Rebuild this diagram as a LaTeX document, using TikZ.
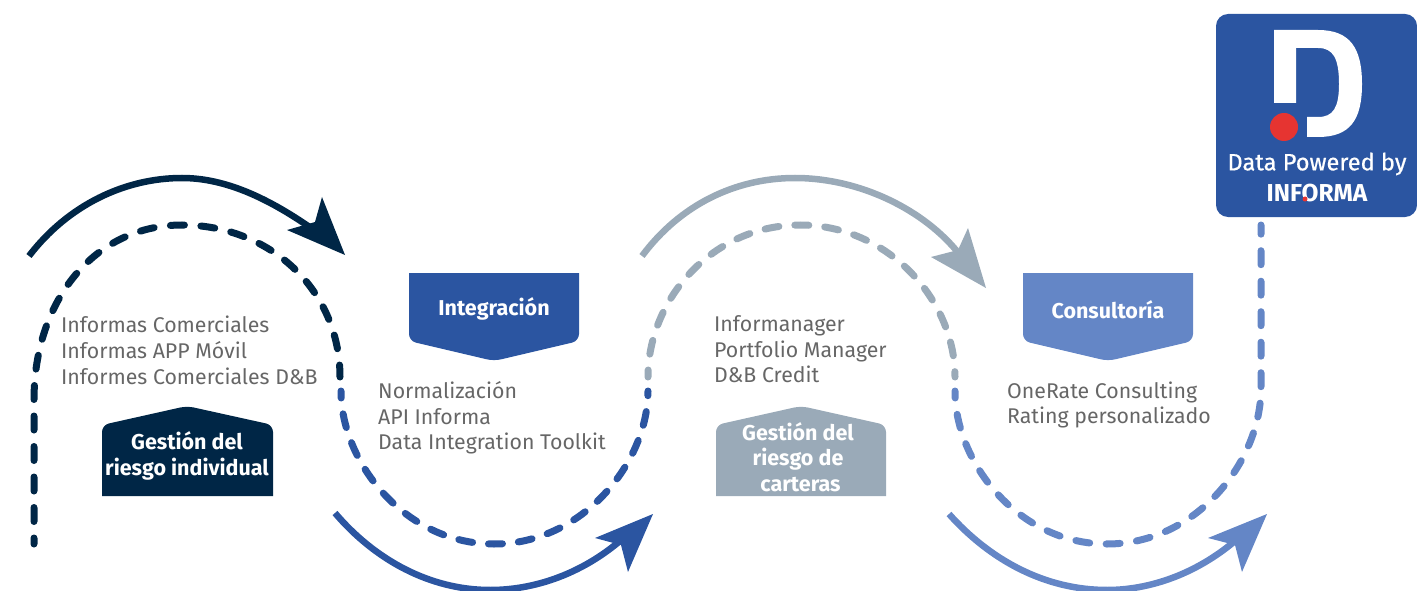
\documentclass[tikz,border=0pt]{standalone}
\usepackage{fontspec}
\setmainfont{Fira Sans}
\definecolor{navy}{HTML}{002646}
\definecolor{blueA}{HTML}{2B55A1}
\definecolor{greyB}{HTML}{9AAAB8}
\definecolor{blueC}{HTML}{6486C6}
\definecolor{txt}{HTML}{666666}
\definecolor{redD}{HTML}{E63431}
\tikzset{
  px/.style={x=1pt,y=-1pt},
  dashline/.style={line width=7pt,line cap=round},
  arcline/.style={line width=6.5pt},
  list/.style={font=\fontsize{21.3}{25.6}\selectfont,text=txt,align=left,anchor=north west,inner sep=0pt},
  head/.style={font=\fontsize{21.5}{25.6}\selectfont\bfseries,text=white,align=center,inner sep=0pt},
  tag/.style={rounded corners=7pt},
}
\begin{document}
\begin{tikzpicture}[px]
\useasboundingbox (0,0) rectangle (1417,591);
% dashed wave
\coordinate (w0) at (34,544);
\coordinate (w1e) at (340,377);
\coordinate (w1s) at (341,391);
\coordinate (w2e) at (648,391);
\coordinate (w2s) at (648,377);
\coordinate (w3e) at (955,377);
\coordinate (w3s) at (955,391);
\coordinate (w4) at (1261,225);
\draw[dashline,navy,dash pattern=on 14pt off 16.5pt,dash phase=8pt] (w0) -- (34,400) .. controls (34,300) and (95,225) .. (182,225) .. controls (270,225) and (340,290) .. (w1e);
\draw[dashline,blueA,dash pattern=on 14pt off 16pt,dash phase=7pt] (w1s) .. controls (341,462) and (405,544) .. (494,544) .. controls (583,544) and (648,462) .. (w2e);
\draw[dashline,greyB,dash pattern=on 14pt off 16pt,dash phase=7pt] (w2s) .. controls (648,300) and (712,225) .. (800,225) .. controls (888,225) and (955,300) .. (w3e);
\draw[dashline,blueC,dash pattern=on 14pt off 16.5pt,dash phase=7pt] (w3s) .. controls (955,462) and (1018,544) .. (1107,544) .. controls (1196,544) and (1261,462) .. (1261,388) -- (w4);
% solid arcs
\coordinate (a1s) at (29,256); \coordinate (a1e) at (325,238);
\draw[arcline,navy] (a1s) .. controls (68,205) and (125,178) .. (182,178) .. controls (232,178) and (280,205) .. (a1e);
\fill[navy] (345,255) -- (322,197) -- (315,222) -- (287,230) -- cycle;
\coordinate (a2s) at (335,513); \coordinate (a2e) at (630,532);
\draw[arcline,blueA] (a2s) .. controls (375,560) and (430,590) .. (490,590) .. controls (540,590) and (590,570) .. (a2e);
\fill[blueA] (653,514) -- (628,572) -- (621,545) -- (595,538) -- cycle;
\coordinate (a3s) at (642,256); \coordinate (a3e) at (960,255);
\draw[arcline,greyB] (a3s) .. controls (680,205) and (735,178) .. (795,178) .. controls (860,178) and (925,210) .. (a3e);
\fill[greyB] (986,288) -- (968,228) -- (958,250) -- (931,257) -- cycle;
\coordinate (a4s) at (949,514); \coordinate (a4e) at (1245,532);
\draw[arcline,blueC] (a4s) .. controls (990,560) and (1045,590) .. (1107,590) .. controls (1155,590) and (1205,570) .. (a4e);
\fill[blueC] (1267,514) -- (1242,572) -- (1235,545) -- (1208,538) -- cycle;
% tags
\fill[blueA,tag] (409,273) [sharp corners] -- (409,273) [tag] -- (409,341) -- (494,361) -- (579,341) [sharp corners] -- (579,273) -- cycle;
\node[head] (integ) at (494,309) {Integración};
\fill[blueC,tag] (1023,273) [sharp corners] -- (1023,273) [tag] -- (1023,341) -- (1108,361) -- (1193,341) [sharp corners] -- (1193,273) -- cycle;
\node[head] (cons) at (1108,310) {Consultoría};
\fill[navy,tag] (102,496) [tag] -- (102,425) -- (187,406) -- (273,425) [sharp corners] -- (273,496) -- cycle;
\node[head] (indiv) at (187,456) {Gestión del\\riesgo individual};
\fill[greyB,tag] (716,496) [tag] -- (716,425) -- (801,406) -- (886,425) [sharp corners] -- (886,496) -- cycle;
\node[head] (cart) at (798,457) {Gestión del\\riesgo de\\\hspace*{5pt}carteras};
% lists
\node[list] (l1) at (61,316) {Informas Comerciales\\Informas APP Móvil\\Informes Comerciales D\&B};
\node[list] (l2) at (378,381.5) {Normalización\\API Informa\\Data Integration Toolkit};
\node[list] (l3) at (714,315.5) {Informanager\\Portfolio Manager\\D\&B Credit};
\node[list] (l4) at (1007,381.5) {OneRate Consulting\\Rating personalizado};
% logo
\fill[blueA,rounded corners=12pt] (1216,14) rectangle (1417,217);
\fill[white] (1274,30) -- (1318,30) .. controls (1350,30) and (1362,48) .. (1362,84) .. controls (1362,120) and (1350,137) .. (1318,137) -- (1307,137) -- (1307,117) -- (1318,117) .. controls (1333,117) and (1339,108) .. (1339,84) .. controls (1339,58) and (1333,48) .. (1318,48) -- (1296,48) -- (1296,103) -- (1274,103) -- cycle;
\fill[redD] (1284,127) circle[radius=14];
\node[font=\fontsize{23.6}{26}\selectfont\addfontfeatures{FakeBold=0.6},text=white,inner sep=0pt] (dp) at (1317,164) {Data Powered by};
\node[font=\fontsize{24.5}{26}\selectfont\bfseries,text=white,inner sep=0pt] (inf) at (1317,193) {INFORMA};
\fill[redD] (1305,199) circle[radius=2.5];
\end{tikzpicture}
\end{document}
